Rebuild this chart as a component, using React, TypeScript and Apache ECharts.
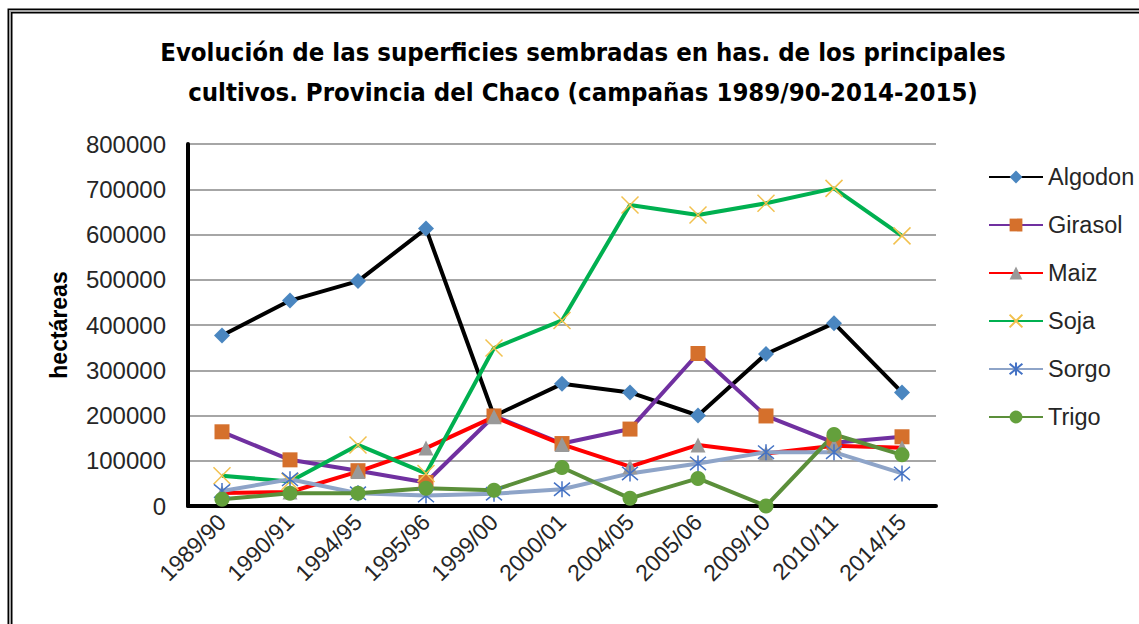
import React, { useEffect, useRef } from "react";
import * as echarts from "echarts";

const categories = ["1989/90", "1990/91", "1994/95", "1995/96", "1999/00", "2000/01", "2004/05", "2005/06", "2009/10", "2010/11", "2014/15"];
const algodon = [377000, 454000, 497000, 613000, 199000, 270000, 251000, 200000, 336000, 404000, 251000];
const girasol = [164000, 102000, 78000, 52000, 199000, 138000, 170000, 337000, 199000, 140000, 153000];
const maiz = [29000, 31000, 76000, 128000, 197000, 136000, 87000, 135000, 116000, 133000, 129000];
const soja = [67000, 54000, 135000, 72000, 349000, 410000, 665000, 643000, 669000, 702000, 597000];
const sorgo = [33000, 59000, 28000, 23000, 27000, 37000, 72000, 94000, 119000, 119000, 72000];
const trigo = [15000, 28000, 28000, 39000, 35000, 85000, 17000, 61000, 0, 158000, 113000];

const yTicks = [0, 100000, 200000, 300000, 400000, 500000, 600000, 700000, 800000];

const FONT = "'Liberation Sans Narrow', 'DejaVu Sans Condensed', 'Liberation Sans', sans-serif";
const LABEL_FONT = "'Liberation Sans', 'Noto Sans', sans-serif";

export default function App() {
  const ref = useRef<HTMLDivElement>(null);
  useEffect(() => {
    if (!ref.current) return;
    const chart = echarts.init(ref.current, undefined, { renderer: "svg" });
    const mk = (name: string, data: number[], lineColor: string, symbol: string, symColor: string, size: number, stroke?: boolean) => ({
      name,
      type: "line",
      data,
      symbol,
      symbolSize: size,
      showAllSymbol: true,
      lineStyle: { color: lineColor, width: 4 },
      itemStyle: stroke
        ? { color: lineColor, borderColor: symColor, borderWidth: 1.5 }
        : { color: symColor, borderWidth: 0 },
      emphasis: { disabled: true },
    });
    const option: any = {
      animation: false,
      backgroundColor: "#ffffff",
      title: {
        text: "Evolución de las superficies sembradas en has. de los principales\ncultivos. Provincia del Chaco (campañas 1989/90-2014-2015)",
        left: 578,
        textAlign: "center",
        top: 27,
        textStyle: { fontFamily: FONT, fontWeight: "bold", fontSize: 25.5, lineHeight: 40, color: "#000" },
      },
      graphic: [
        { type: "rect", shape: { x: 10, y: 11, width: 1300, height: 800 }, style: { fill: "none", stroke: "#000", lineWidth: 5 }, silent: true },
        { type: "rect", shape: { x: 10, y: 11, width: 1300, height: 800 }, style: { fill: "none", stroke: "#a6a6a6", lineWidth: 2 }, silent: true },
      ],
      legend: {
        orient: "vertical",
        left: 983,
        top: 159,
        itemWidth: 54,
        itemHeight: 16,
        itemGap: 22,
        textStyle: { fontFamily: LABEL_FONT, fontSize: 23.5, lineHeight: 26, color: "#262626" },
        data: ["Algodon", "Girasol", "Maiz", "Soja", "Sorgo", "Trigo"],
      },
      grid: { left: 188, right: 203, top: 144, bottom: 118, containLabel: false },
      xAxis: {
        type: "category",
        data: categories,
        boundaryGap: true,
        axisLine: { show: true, lineStyle: { color: "#000", width: 4 } },
        axisTick: { show: false },
        axisLabel: { rotate: 45, fontFamily: LABEL_FONT, fontSize: 23, color: "#262626", margin: 12, interval: 0 },
        splitLine: { show: false },
      },
      yAxis: {
        type: "value",
        min: yTicks[0],
        max: yTicks[yTicks.length - 1],
        interval: 100000,
        name: "hectáreas",
        nameLocation: "middle",
        nameGap: 118,
        nameTextStyle: { fontFamily: LABEL_FONT, fontWeight: "bold", fontSize: 23, color: "#000" },
        axisLine: { show: true, lineStyle: { color: "#000", width: 4 } },
        axisTick: { show: false },
        axisLabel: { fontFamily: LABEL_FONT, fontSize: 24, color: "#262626", margin: 22, formatter: (v: number) => String(v) },
        splitLine: { show: true, lineStyle: { color: "#a6a6a6", width: 2 } },
      },
      series: [
        mk("Algodon", algodon, "#000000", "diamond", "#4a86c0", 16),
        mk("Girasol", girasol, "#7030a0", "rect", "#d5702c", 15),
        mk("Maiz", maiz, "#ff0000", "triangle", "#999999", 15),
        mk("Soja", soja, "#00b050", "path://M0,0L10,10M10,0L0,10", "#f2c14e", 17, true),
        mk("Sorgo", sorgo, "#8ea4c8", "path://M0,0L10,10M10,0L0,10M5,-1L5,11", "#4472c4", 16, true),
        mk("Trigo", trigo, "#5b8f3a", "circle", "#64a03c", 15),
      ],
    };
    chart.setOption(option);
    return () => chart.dispose();
  }, []);
  return <div ref={ref} style={{ position: "absolute", left: 0, top: 0, width: 1139, height: 624 }} />;
}
